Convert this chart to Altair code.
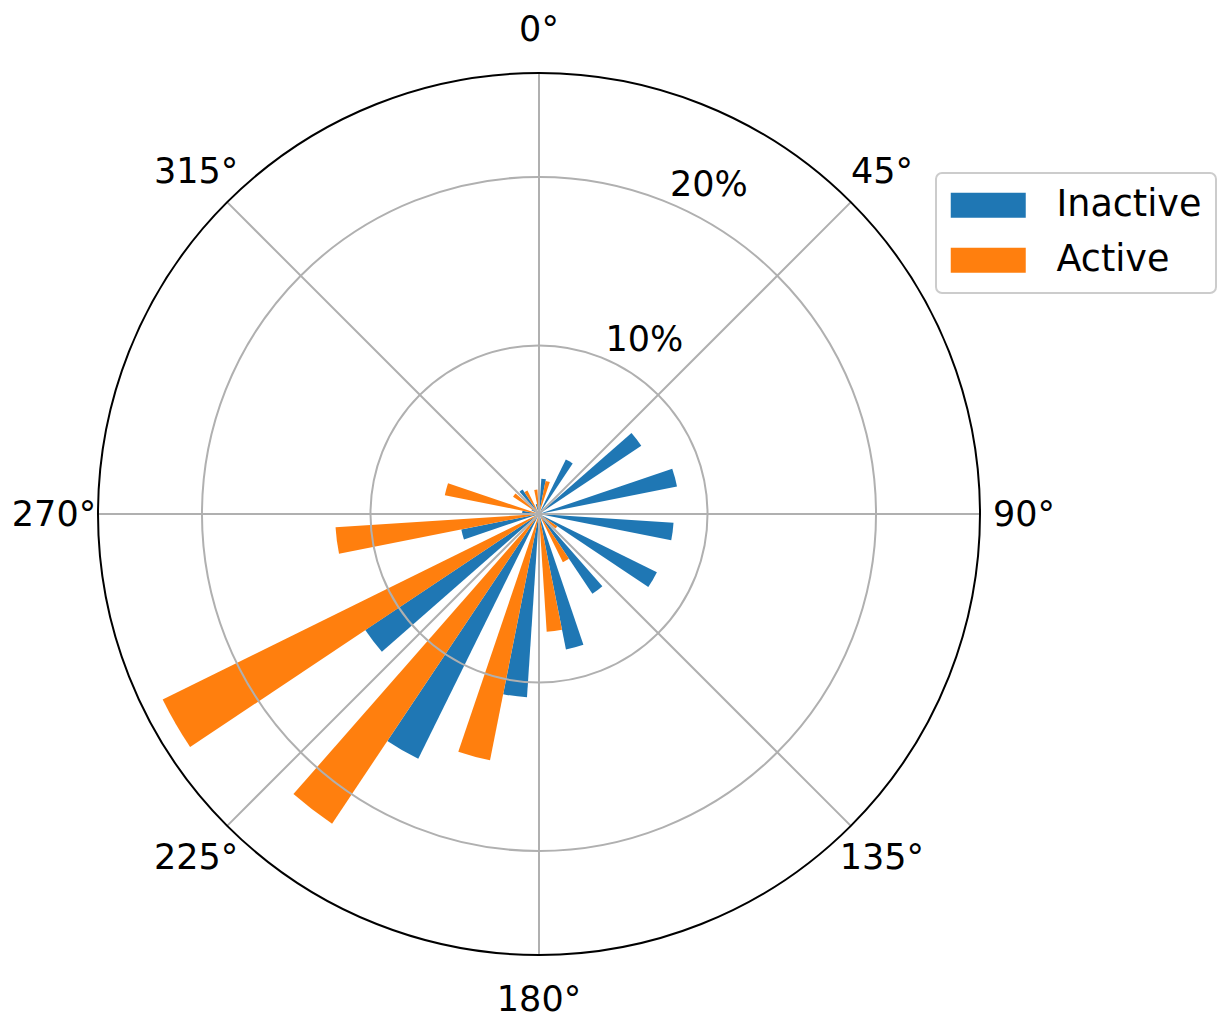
import math
import altair as alt
import pandas as pd

# ---- data ----
directions = [11.25, 33.75, 56.25, 78.75, 101.25, 123.75, 146.25, 168.75,
              191.25, 213.75, 236.25, 258.75, 281.25, 303.75, 326.25, 348.75]
inactive = [2.1, 3.6, 7.3, 8.35, 8.0, 7.8, 5.7, 8.2,
            10.9, 16.2, 12.4, 4.7, 1.0, 0.5, 1.75, 0.6]
active = [2.0, 0.0, 0.0, 0.0, 0.0, 1.3, 3.2, 7.0,
          14.9, 22.1, 24.9, 12.1, 5.7, 1.85, 1.55, 1.45]
series = ["Inactive", "Active"]
colors = ["#1f77b4", "#ff7f0e"]
bar_width = 7.5            # degrees per bar
ring_values = [10, 20]
ring_labels = ["10%", "20%"]
r_max = 26.17
spoke_angles = [0, 45, 90, 135, 180, 225, 270, 315]
spoke_labels = ["0°", "45°", "90°", "135°", "180°", "225°", "270°", "315°"]

rows = []
for d, vi, va in zip(directions, inactive, active):
    rows.append({"series": "Inactive", "start": d - bar_width, "end": d, "value": vi})
    rows.append({"series": "Active", "start": d, "end": d + bar_width, "value": va})
bars_df = pd.DataFrame(rows)
rings_df = pd.DataFrame({"r": ring_values, "label": ring_labels})
outer_df = pd.DataFrame({"r": [r_max]})
spokes_df = pd.DataFrame({"a": spoke_angles, "label": spoke_labels, "r": [r_max] * len(spoke_angles)})

CX, CY = 539, 514
theta_scale = alt.Scale(domain=[0, 360], range=[0, 2 * math.pi])
r_scale = alt.Scale(type="linear", domain=[0, r_max], range=[0, 441], zero=True)
FONT = "DejaVu Sans"

legend = alt.Legend(
    orient="none", legendX=936, legendY=173, title=None,
    symbolType="M-1.4,-1H4.6V1H-1.4Z", symbolSize=625, symbolStrokeWidth=0, symbolOpacity=1,
    labelFont=FONT, labelFontSize=36.5, labelColor="black", labelOffset=70,
    padding=14, rowPadding=18, strokeColor="#cccccc",
    cornerRadius=6, fillColor="white",
)

bars = alt.Chart(bars_df).mark_arc(radius2=0, strokeWidth=0).encode(
    theta=alt.Theta("start:Q", scale=theta_scale, stack=False),
    theta2="end:Q",
    radius=alt.Radius("value:Q", scale=r_scale, stack=False),
    color=alt.Color("series:N", scale=alt.Scale(domain=series, range=colors), legend=legend),
    x=alt.value(CX), y=alt.value(CY),
)

rings = alt.Chart(rings_df).mark_arc(filled=False, color="#b0b0b0", strokeWidth=2, radius2=0).encode(
    theta=alt.value(0), theta2=alt.value(2 * math.pi),
    radius=alt.Radius("r:Q", scale=r_scale, stack=False),
    x=alt.value(CX), y=alt.value(CY),
)

spokes = alt.Chart(spokes_df).mark_arc(filled=False, color="#b0b0b0", strokeWidth=2, radius2=0).encode(
    theta=alt.Theta("a:Q", scale=theta_scale, stack=False),
    theta2="a:Q",
    radius=alt.Radius("r:Q", scale=r_scale, stack=False),
    x=alt.value(CX), y=alt.value(CY),
)

outer = alt.Chart(outer_df).mark_arc(filled=False, color="black", strokeWidth=2, radius2=0).encode(
    theta=alt.value(0), theta2=alt.value(2 * math.pi),
    radius=alt.Radius("r:Q", scale=r_scale, stack=False),
    x=alt.value(CX), y=alt.value(CY),
)

angle_labels = alt.Chart(spokes_df).mark_text(
    font=FONT, fontSize=35, align="center", baseline="middle", dy=1, color="black"
).encode(
    theta=alt.Theta("a:Q", scale=theta_scale, stack=False),
    radius=alt.value(485),
    text="label:N",
    x=alt.value(CX), y=alt.value(CY),
)

r_labels = alt.Chart(rings_df).mark_text(
    font=FONT, fontSize=35, align="left", baseline="alphabetic", dx=2, dy=-7, color="black"
).encode(
    theta=alt.value(math.radians(22.5)),
    radius=alt.Radius("r:Q", scale=r_scale, stack=False),
    text="label:N",
    x=alt.value(CX), y=alt.value(CY),
)

chart = alt.layer(bars, rings, spokes, outer, angle_labels, r_labels).properties(
    width=1225, height=1025, padding=0,
    autosize=alt.AutoSizeParams(type="none"),
    background="white",
).configure_view(strokeWidth=0).configure_legend(strokeWidth=2)

chart.save("out.html", embed_options={"renderer": "svg", "actions": False})
